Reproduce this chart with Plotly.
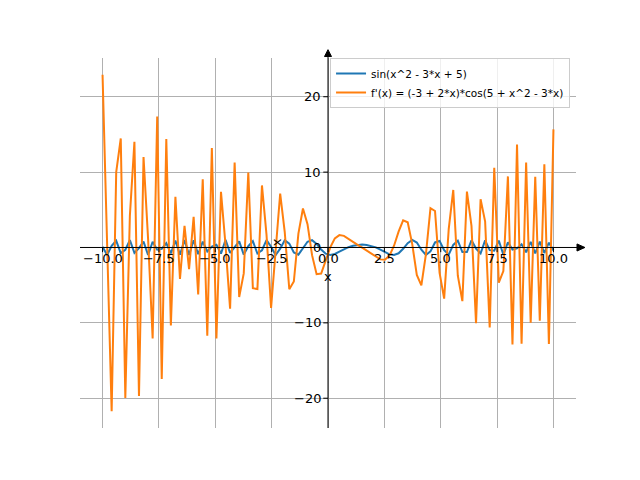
import plotly.graph_objects as go

# sample positions along x (100 evenly spaced points)
x_vals = [
    -10.0, -9.798, -9.596, -9.394, -9.192, -8.990, -8.788, -8.586, -8.384, -8.182,
    -7.980, -7.778, -7.576, -7.374, -7.172, -6.970, -6.768, -6.566, -6.364, -6.162,
    -5.960, -5.758, -5.556, -5.354, -5.152, -4.949, -4.747, -4.545, -4.343, -4.141,
    -3.939, -3.737, -3.535, -3.333, -3.131, -2.929, -2.727, -2.525, -2.323, -2.121,
    -1.919, -1.717, -1.515, -1.313, -1.111, -0.909, -0.707, -0.505, -0.303, -0.101,
    0.101, 0.303, 0.505, 0.707, 0.909, 1.111, 1.313, 1.515, 1.717, 1.919,
    2.121, 2.323, 2.525, 2.727, 2.929, 3.131, 3.333, 3.535, 3.737, 3.939,
    4.141, 4.343, 4.545, 4.747, 4.949, 5.152, 5.354, 5.556, 5.758, 5.960,
    6.162, 6.364, 6.566, 6.768, 6.970, 7.172, 7.374, 7.576, 7.778, 7.980,
    8.182, 8.384, 8.586, 8.788, 8.990, 9.192, 9.394, 9.596, 9.798, 10.0,
]

# sin(x^2 - 3*x + 5)
sin_vals = [
    0.09, -1.00, 0.21, 0.89, -0.74, -0.30, 0.98, -0.72, -0.09, 0.78,
    -1.00, 0.76, -0.29, -0.19, 0.56, -0.79, 0.91, -0.97, 0.98, -0.98,
    0.96, -0.90, 0.77, -0.52, 0.13, 0.36, -0.81, 1.00, -0.72, -0.02,
    0.80, -0.94, 0.17, 0.83, -0.80, -0.37, 0.98, 0.10, -1.00, -0.15,
    0.95, 0.51, -0.66, -0.95, -0.14, 0.76, 0.97, 0.47, -0.28, -0.82,
    -1.00, -0.86, -0.56, -0.23, 0.04, 0.24, 0.35, 0.38, 0.34, 0.21,
    0.01, -0.28, -0.61, -0.90, -1.00, -0.77, -0.17, 0.57, 1.00, 0.66,
    -0.30, -0.99, -0.52, 0.67, 0.87, -0.37, -0.95, 0.34, 0.90, -0.60,
    -0.61, 0.96, -0.14, -0.79, 0.95, -0.35, -0.43, 0.92, -0.97, 0.69,
    -0.27, -0.13, 0.43, -0.63, 0.75, -0.79, 0.79, -0.73, 0.64, -0.39,
]

# f'(x) = (-3 + 2*x)*cos(5 + x^2 - 3*x)
deriv_vals = [
    22.91, 0.49, -21.72, 9.99, 14.46, -19.98, 4.20, 14.03, -19.69, 12.01,
    1.15, -12.07, 17.36, -17.43, 14.40, -10.36, 6.71, -4.16, 2.88, -2.88,
    4.07, -6.24, 9.04, -11.72, 13.19, -12.06, 7.38, 0.33, -8.11, 11.28,
    -6.58, -3.44, 9.93, -5.40, -5.51, 8.23, 1.68, -8.01, -0.67, 7.16,
    2.05, -5.54, -4.51, 1.84, 5.17, 3.10, -1.02, -3.54, -3.46, -1.81,
    0.01, 1.21, 1.64, 1.54, 1.18, 0.76, 0.35, -0.03, -0.41, -0.82,
    -1.24, -1.58, -1.62, -1.08, 0.23, 2.10, 3.61, 3.34, 0.44, -3.65,
    -5.04, -0.91, 5.22, 4.84, -3.38, -6.79, 2.43, 7.63, -3.75, -7.12,
    7.41, 2.86, -10.04, 6.41, 3.43, -10.61, 10.59, -4.67, -3.12, 9.43,
    -12.87, 13.65, -12.77, 11.28, -9.98, 9.37, -9.70, 11.04, -12.80, 15.67,
]

x_ticks = [-10, -7.5, -5, -2.5, 0, 2.5, 5, 7.5, 10]
x_tick_text = ["\u221210.0", "\u22127.5", "\u22125.0", "\u22122.5", "0.0", "2.5", "5.0", "7.5", "10.0"]
y_ticks = [-20, -10, 0, 10, 20]
y_tick_text = ["\u221220", "\u221210", "0", "10", "20"]

x_range = [-11, 11]
y_range = [-23.95, 25.14]
font = "DejaVu Sans"

fig = go.Figure()
fig.add_trace(go.Scatter(x=x_vals, y=sin_vals, mode="lines", name="sin(x^2 - 3*x + 5)",
                         line=dict(color="#1f77b4", width=2)))
fig.add_trace(go.Scatter(x=x_vals, y=deriv_vals, mode="lines",
                         name="f'(x) = (-3 + 2*x)*cos(5 + x^2 - 3*x)",
                         line=dict(color="#ff7f0e", width=2)))

black = dict(color="black", width=1)
shapes = [
    # centred spines, running a little past the plot area
    dict(type="line", xref="paper", yref="y", x0=0, x1=1.005, y0=0, y1=0,
         line=black, layer="above"),
    dict(type="line", xref="x", yref="paper", x0=0, x1=0, y0=0, y1=1.005,
         line=black, layer="above"),
    # arrow heads
    dict(type="path", xref="paper", yref="y", layer="above",
         path="M 1.002,0.47 L 1.018,0 L 1.002,-0.47 Z",
         fillcolor="black", line=dict(color="black", width=1)),
    dict(type="path", xref="x", yref="paper", layer="above",
         path="M -0.155,1.004 L 0,1.0225 L 0.155,1.004 Z",
         fillcolor="black", line=dict(color="black", width=1)),
]
for t in x_ticks:
    shapes.append(dict(type="line", xref="x", yref="y", x0=t, x1=t, y0=0, y1=-0.62,
                       line=black, layer="above"))
for t in y_ticks:
    shapes.append(dict(type="line", xref="x", yref="y", x0=0, x1=-0.21, y0=t, y1=t,
                       line=black, layer="above"))

annotations = []
for t, s in zip(x_ticks, x_tick_text):
    annotations.append(dict(x=t, y=0, xref="x", yref="y", text=s, showarrow=False,
                            xanchor="center", yanchor="middle", yshift=-11,
                            font=dict(family=font, size=13, color="black")))
for t, s in zip(y_ticks, y_tick_text):
    annotations.append(dict(x=0, y=t, xref="x", yref="y", text=s, showarrow=False,
                            xanchor="right", yanchor="middle", xshift=-5,
                            font=dict(family=font, size=13, color="black")))
annotations.append(dict(x=0, y=0, xref="x", yref="y", text="x", showarrow=False,
                        xanchor="center", yanchor="middle", yshift=-29,
                        font=dict(family=font, size=13, color="black")))
annotations.append(dict(x=-2.3, y=0.7, xref="x", yref="y", text="x", showarrow=False,
                        textangle=-90, xanchor="center", yanchor="middle",
                        font=dict(family=font, size=13, color="black")))

# the page body adds an 8 px offset, so the margins are shifted to compensate
fig.update_layout(
    width=640,
    height=480,
    paper_bgcolor="white",
    plot_bgcolor="white",
    margin=dict(l=72, r=72, t=50, b=60),
    font=dict(family=font, size=11, color="black"),
    showlegend=True,
    legend=dict(
        x=0.988, xanchor="right",
        y=1.0, yanchor="top",
        bgcolor="rgba(255,255,255,0.8)",
        bordercolor="#cccccc",
        borderwidth=1,
        itemwidth=30,
        font=dict(family=font, size=10.5),
        tracegroupgap=0,
    ),
    shapes=shapes,
    annotations=annotations,
)
fig.update_xaxes(range=x_range, tickvals=x_ticks, showticklabels=False, ticks="",
                 showgrid=True, gridcolor="#b0b0b0", gridwidth=1,
                 zeroline=False, showline=False)
fig.update_yaxes(range=y_range, tickvals=y_ticks, showticklabels=False, ticks="",
                 showgrid=True, gridcolor="#b0b0b0", gridwidth=1,
                 zeroline=False, showline=False)

fig.write_html("out.html")
